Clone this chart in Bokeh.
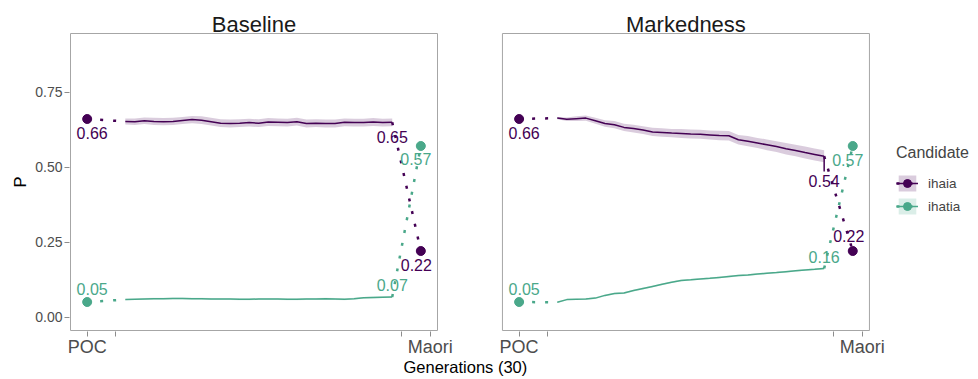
from bokeh.plotting import figure
from bokeh.models import Range1d, FixedTicker, Legend, LegendItem, NumeralTickFormatter, Title
from bokeh.embed import file_html
from bokeh.resources import INLINE
from bokeh.core.properties import value

# ---------------- data ----------------
panels = ["Baseline", "Markedness"]
candidates = ["ihaia", "ihatia"]
x_tick_pos = [0, 3, 33, 36]
x_tick_labels = ["POC", "", "", "Maori"]
y_ticks = [0.0, 0.25, 0.5, 0.75]
poc_x = 0
maori_x = 35
gen_x = list(range(4, 33))          # 29 simulated generation steps
poc_values = [0.66, 0.05]           # ihaia, ihatia
maori_values = [0.22, 0.57]         # ihaia, ihatia

baseline_ihaia = [0.652, 0.651, 0.654, 0.652, 0.651, 0.652, 0.655, 0.658, 0.656, 0.651,
                  0.646, 0.645, 0.646, 0.648, 0.646, 0.650, 0.649, 0.648, 0.651, 0.645,
                  0.646, 0.645, 0.645, 0.649, 0.648, 0.648, 0.650, 0.648, 0.649]
baseline_ihaia_ci = [0.010, 0.011, 0.011, 0.012, 0.012, 0.012, 0.012, 0.012, 0.013, 0.013,
                     0.013, 0.013, 0.013, 0.013, 0.013, 0.013, 0.013, 0.013, 0.013, 0.013,
                     0.013, 0.013, 0.013, 0.013, 0.013, 0.013, 0.013, 0.013, 0.013]
baseline_ihatia = [0.058, 0.059, 0.060, 0.061, 0.061, 0.062, 0.062, 0.061, 0.061, 0.060,
                   0.060, 0.060, 0.059, 0.059, 0.060, 0.060, 0.060, 0.059, 0.059, 0.060,
                   0.060, 0.061, 0.060, 0.059, 0.061, 0.064, 0.065, 0.066, 0.067]
baseline_ihatia_ci = [0.002, 0.002, 0.003, 0.003, 0.003, 0.003, 0.003, 0.003, 0.003, 0.003,
                      0.003, 0.003, 0.003, 0.003, 0.003, 0.003, 0.003, 0.003, 0.003, 0.003,
                      0.003, 0.003, 0.003, 0.003, 0.003, 0.003, 0.003, 0.003, 0.003]
markedness_ihaia = [0.663, 0.659, 0.661, 0.663, 0.654, 0.645, 0.641, 0.632, 0.628, 0.623,
                    0.617, 0.615, 0.613, 0.612, 0.610, 0.609, 0.607, 0.605, 0.604, 0.591,
                    0.586, 0.580, 0.574, 0.568, 0.561, 0.555, 0.548, 0.542, 0.536]
markedness_ihaia_ci = [0.004, 0.006, 0.008, 0.009, 0.010, 0.011, 0.012, 0.012, 0.013, 0.013,
                       0.014, 0.014, 0.014, 0.015, 0.015, 0.015, 0.015, 0.016, 0.016, 0.016,
                       0.017, 0.017, 0.018, 0.018, 0.019, 0.019, 0.020, 0.020, 0.020]
markedness_ihaia_final = 0.485
markedness_ihatia = [0.049, 0.058, 0.059, 0.060, 0.063, 0.072, 0.078, 0.080, 0.088, 0.095,
                     0.102, 0.109, 0.116, 0.122, 0.124, 0.127, 0.129, 0.132, 0.135, 0.138,
                     0.140, 0.143, 0.146, 0.148, 0.151, 0.154, 0.157, 0.159, 0.162]
markedness_ihatia_ci = [0.002, 0.002, 0.002, 0.003, 0.003, 0.003, 0.003, 0.003, 0.003, 0.003,
                        0.003, 0.003, 0.003, 0.003, 0.003, 0.003, 0.003, 0.003, 0.003, 0.003,
                        0.003, 0.003, 0.003, 0.003, 0.003, 0.003, 0.003, 0.003, 0.003]

# ---------------- style / layout ----------------
FONT = "Liberation Sans"
COLORS = ["#440154", "#4AA88A"]
BORDER = "#A6A6A6"
TICK = "#8C8C8C"
label_offsets = {   # pixel offsets (dx, dy-down) for [ihaia, ihatia]
    "Baseline": {"poc": [(5, 13.5), (5, -13)], "end": [(0, 14.5), (0, -12)],
                 "maori": [(-4.5, 13.5), (-5, 13)]},
    "Markedness": {"poc": [(5, 13.5), (5, -13)], "end": [(0, 25), (0, -11)],
                   "maori": [(-4, -15), (-5, 14)]},
}

W, H = 978, 379
MB_LEFT = 69
MB_BOTTOM = 48
PANEL_XR = (-1.75, 36.75)          # one facet's x extent (data + 5% expansion)
PANEL_YR = (-0.045, 0.945)
PANEL_WPX = 367
PANEL_HPX = 297
XPX = (PANEL_XR[1] - PANEL_XR[0]) / PANEL_WPX
YPX = (PANEL_YR[1] - PANEL_YR[0]) / PANEL_HPX
OFFSETS = [0.0, 45.3125]           # x shift of each facet in the shared frame
TOP_PX = 33                        # strip area above the panels

x_start = PANEL_XR[0] - XPX
x_end = x_start + (W - MB_LEFT) * XPX
y_start = PANEL_YR[0] - YPX
y_end = PANEL_YR[1] + TOP_PX * YPX

p = figure(width=W, height=H, x_range=Range1d(x_start, x_end), y_range=Range1d(y_start, y_end),
           output_backend="svg", toolbar_location=None, min_border_left=MB_LEFT,
           min_border_right=0, min_border_top=0, min_border_bottom=MB_BOTTOM)
p.grid.visible = False
p.outline_line_color = None
p.background_fill_color = "white"
p.border_fill_color = "white"

# axes
all_ticks, overrides = [], {}
for off in OFFSETS:
    for t, lab in zip(x_tick_pos, x_tick_labels):
        all_ticks.append(t + off)
        overrides[t + off] = lab
p.xaxis.ticker = FixedTicker(ticks=all_ticks)
p.xaxis.major_label_overrides = overrides
p.xaxis.major_label_text_font = FONT
p.xaxis.major_label_text_font_size = "18px"
p.xaxis.major_label_text_color = "#4D4D4D"
p.xaxis.major_label_standoff = 0
p.yaxis.ticker = FixedTicker(ticks=y_ticks)
p.yaxis.formatter = NumeralTickFormatter(format="0.00")
p.yaxis.major_label_text_font = FONT
p.yaxis.major_label_text_font_size = "14px"
p.yaxis.major_label_text_color = "#4D4D4D"
p.yaxis.major_label_standoff = 2
for ax in p.axis:
    ax.axis_line_color = None
    ax.major_tick_line_color = TICK
    ax.major_tick_out = 5
    ax.major_tick_in = 0
    ax.minor_tick_line_color = None

# axis titles, placed so they centre on the facet panels
XTITLE_W = 133      # rendered width of "Generations (30)" at 16.5px
PTITLE_W = 11       # rendered width of "P" at 16.5px
panels_center_px = 1 + (OFFSETS[1] + PANEL_XR[1] - PANEL_XR[0]) / XPX / 2
panel_mid_from_bottom = 1 + PANEL_HPX / 2
ytitle = Title(text="P", align="left", text_font=FONT, text_font_size="16.5px",
               text_font_style="normal", text_color="black",
               offset=panel_mid_from_bottom - PTITLE_W / 2)
xtitle = Title(text="Generations (30)", align="left", text_font=FONT,
               text_font_size="16.5px", text_font_style="normal", text_color="black",
               offset=panels_center_px - XTITLE_W / 2)
if "standoff" in ytitle.properties():
    ytitle.standoff = 8
    xtitle.standoff = -8
p.add_layout(ytitle, "left")
p.add_layout(xtitle, "below")

# panel borders and strip titles
p.quad(left=[PANEL_XR[0] + o for o in OFFSETS], right=[PANEL_XR[1] + o for o in OFFSETS],
       bottom=[PANEL_YR[0]] * 2, top=[PANEL_YR[1]] * 2, fill_color=None,
       line_color=BORDER, line_width=1)
p.text(x=[(PANEL_XR[0] + PANEL_XR[1]) / 2 + o for o in OFFSETS], y=[PANEL_YR[1]] * 2,
       text=panels, y_offset=-9, text_font=value(FONT), text_font_size="22px",
       text_color="#1A1A1A", text_align="center", text_baseline="alphabetic")


def draw_panel(name, off, series, cis, final_drop=None):
    rend = {}
    gx = [g + off for g in gen_x]
    px, mx = poc_x + off, maori_x + off
    for i, cand in enumerate(candidates):
        vals, ci = series[i], cis[i]
        lo = [v - e for v, e in zip(vals, ci)]
        hi = [v + e for v, e in zip(vals, ci)]
        rend[cand] = [p.varea(x=gx, y1=lo, y2=hi, fill_color=COLORS[i], fill_alpha=0.2)]
    for i, cand in enumerate(candidates):
        c = COLORS[i]
        vals = series[i]
        d1 = p.line([px, gx[0]], [poc_values[i], vals[0]], line_color=c,
                    line_width=2.5, line_dash="3 10")
        p.line([gx[-1], mx], [vals[-1], maori_values[i]], line_color=c,
               line_width=2.5, line_dash="3 10")
        ln = p.line(gx, vals, line_color=c, line_width=1.5)
        if final_drop is not None and i == 0:
            p.segment(x0=[gx[-1]], y0=[vals[-1]], x1=[gx[-1]], y1=[final_drop],
                      line_color=c, line_width=1.5)
        pt = p.scatter([px, mx], [poc_values[i], maori_values[i]], size=9,
                       color=c, line_color=c)
        rend[cand] += [d1, ln, pt]
    for i, cand in enumerate(candidates):
        vals = series[i]
        offs = label_offsets[name]
        ys = [poc_values[i], vals[-1], maori_values[i]]
        p.text(x=[px, gx[-1], mx], y=ys, text=[f"{v:.2f}" for v in ys],
               x_offset=[offs[k][i][0] for k in ("poc", "end", "maori")],
               y_offset=[offs[k][i][1] for k in ("poc", "end", "maori")],
               text_color=COLORS[i], text_font=value(FONT), text_font_size="16px",
               text_align="center", text_baseline="middle")
    return rend


draw_panel(panels[0], OFFSETS[0], [baseline_ihaia, baseline_ihatia],
           [baseline_ihaia_ci, baseline_ihatia_ci])
rend2 = draw_panel(panels[1], OFFSETS[1], [markedness_ihaia, markedness_ihatia],
                   [markedness_ihaia_ci, markedness_ihatia_ci],
                   final_drop=markedness_ihaia_final)

legend = Legend(items=[LegendItem(label=c, renderers=rend2[c]) for c in candidates],
                title="Candidate", location=(827, 115), orientation="vertical")
legend.title_text_font = FONT
legend.title_text_font_size = "16px"
legend.title_text_font_style = "normal"
legend.title_standoff = 11
legend.label_text_font = FONT
legend.label_text_font_size = "13.5px"
legend.glyph_width = 22
legend.glyph_height = 20
legend.label_standoff = 10
legend.spacing = 3
legend.padding = 0
legend.margin = 0
legend.border_line_color = None
legend.background_fill_alpha = 0
p.add_layout(legend, "center")

open("out.html", "w").write(file_html(p, INLINE))
